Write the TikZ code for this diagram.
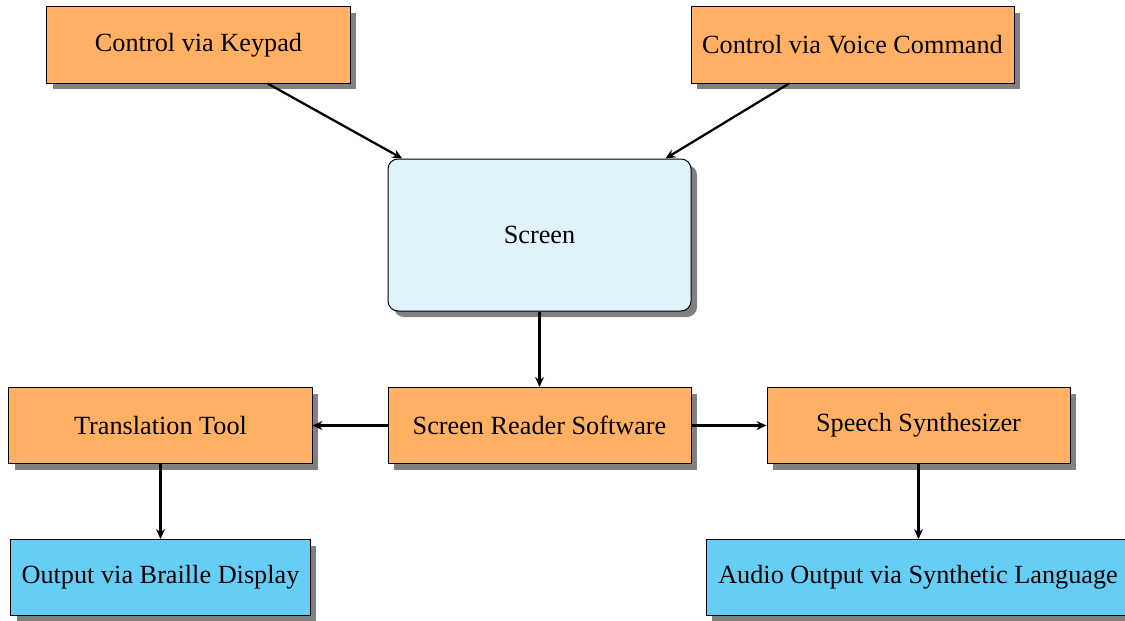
\documentclass[tikz,border=0pt]{standalone}
\usepackage{fontspec}
\setmainfont{Liberation Serif}
\usetikzlibrary{shadows,arrows.meta}
\definecolor{boxorange}{HTML}{FFB062}
\definecolor{screenblue}{HTML}{E0F2FA}
\definecolor{outblue}{HTML}{66CEF5}
\tikzset{
  box/.style={draw=black, line width=0.4pt, inner sep=0pt, minimum height=30.4pt,
    font=\fontsize{10.5}{12.6}\selectfont,
    drop shadow={shadow xshift=2.4pt, shadow yshift=-2.4pt, fill=black!50, opacity=1}},
  orangebox/.style={box, fill=boxorange},
  outbox/.style={box, fill=outblue},
  conn/.style={-{Stealth[length=4pt, width=3.6pt, inset=1.4pt]}, line width=0.9pt}
}
\begin{document}
\begin{tikzpicture}[x=0.4pt, y=-0.4pt]
\useasboundingbox (0,0) rectangle (1125,620);
\node[orangebox, minimum width=121.2pt] (kp) at (198.5,45) {Control via Keypad};
\node[orangebox, minimum width=129.2pt] (vc) at (852.5,45) {Control via Voice Command};
\node[box, fill=screenblue, rounded corners=4pt, minimum width=121.2pt, minimum height=60.8pt] (scr) at (539.5,235) {Screen};
\node[orangebox, minimum width=121.2pt] (srs) at (539.5,425.5) {Screen Reader Software};
\node[orangebox, minimum width=121.2pt] (tt) at (160.5,425.5) {Translation Tool};
\node[orangebox, minimum width=121.2pt] (ss) at (918.5,425.5) {Speech Synthesizer};
\node[outbox, minimum width=119.6pt] (br) at (160.5,577.5) {Output via Braille Display};
\node[outbox, minimum width=169.6pt] (au) at (918,577.5) {Audio Output via Synthetic Language};
\draw[conn] (kp) -- (scr);
\draw[conn] (vc) -- (scr);
\draw[conn] (scr) -- (srs);
\draw[conn] (srs) -- (tt);
\draw[conn] (srs) -- (ss);
\draw[conn] (tt) -- (br);
\draw[conn] (ss.south) -- (ss.south |- au.north);
\end{tikzpicture}
\end{document}
